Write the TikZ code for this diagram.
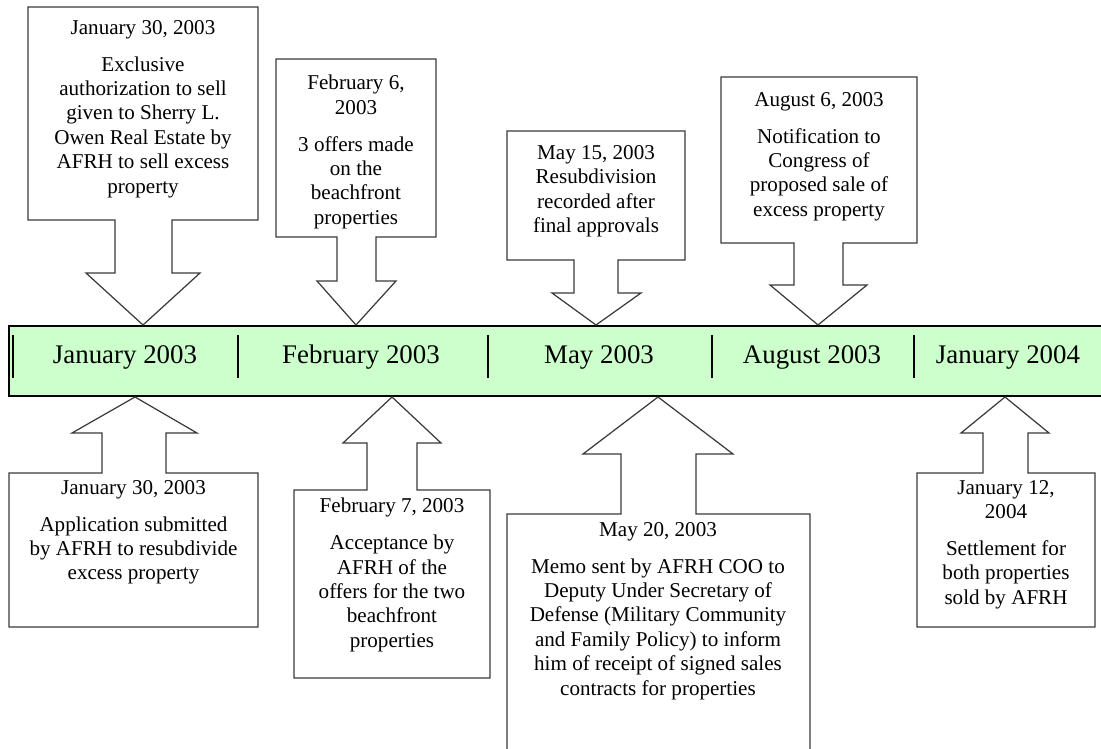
\documentclass[tikz,border=0pt]{standalone}
\usepackage{fontspec}
\setmainfont{Liberation Serif}
\usetikzlibrary{positioning}
\definecolor{barfill}{HTML}{CCFFCC}
\definecolor{edge}{HTML}{3A3A3A}

\tikzset{
  callout/.style={draw=edge, line width=0.7pt, fill=white, line join=miter},
  eventtext/.style={align=center, inner sep=0pt, anchor=north,
                    font=\fontsize{12}{13.9}\selectfont},
  monthlabel/.style={inner sep=0pt, anchor=base, font=\fontsize{15.3}{18}\selectfont},
  divider/.style={line width=0.9pt}
}

\begin{document}
\begin{tikzpicture}[x=0.02cm, y=-0.02cm]
  \useasboundingbox (0,0) rectangle (1101,749);

  % Timeline bar
  \fill[barfill] (9,326) rectangle (1101,396);
  \draw[line width=0.8pt] (1101,326) -- (9,326) -- (9,396) -- (1101,396);
  \foreach \x in {13, 238, 488, 712, 914}
    \draw[divider] (\x,335) -- (\x,378);

  \node[monthlabel] (jan03) at (125,364) {January 2003};
  \node[monthlabel] (feb03) at (361,364) {February 2003};
  \node[monthlabel] (may03) at (599,364) {May 2003};
  \node[monthlabel] (aug03) at (812,364) {August 2003};
  \node[monthlabel] (jan04) at (1008,364) {January 2004};

  % Callouts above the bar
  \draw[callout] (28,7) -- (258,7) -- (258,220) -- (172,220) -- (172,273)
    -- (200,273) -- (143,325) -- (86,273) -- (115,273) -- (115,220) -- (28,220) -- cycle;
  \node[eventtext] (ev1) at (143,20)
    {January 30, 2003\\[7pt] Exclusive\\ authorization to sell\\ given to Sherry L.\\
     Owen Real Estate by\\ AFRH to sell excess\\ property};

  \draw[callout] (276,59) -- (436,59) -- (436,237) -- (376,237) -- (376,281)
    -- (396,281) -- (356,325) -- (317,281) -- (337,281) -- (337,237) -- (276,237) -- cycle;
  \node[eventtext] (ev2) at (356,75)
    {February 6,\\ 2003\\[7pt] 3 offers made\\ on the\\ beachfront\\ properties};

  \draw[callout] (507,131) -- (685,131) -- (685,260) -- (618,260) -- (618,293)
    -- (641,293) -- (596,325) -- (552,293) -- (574,293) -- (574,260) -- (507,260) -- cycle;
  \node[eventtext] (ev3) at (596,145)
    {May 15, 2003\\ Resubdivision\\ recorded after\\ final approvals};

  \draw[callout] (721,77) -- (917,77) -- (917,243) -- (843,243) -- (843,285)
    -- (867,285) -- (818,325) -- (770,285) -- (794,285) -- (794,243) -- (721,243) -- cycle;
  \node[eventtext] (ev4) at (819,92)
    {August 6, 2003\\[7pt] Notification to\\ Congress of\\ proposed sale of\\ excess property};

  % Callouts below the bar
  \draw[callout] (9,627) -- (9,473) -- (102,473) -- (102,433) -- (72,433)
    -- (135,397) -- (197,433) -- (166,433) -- (166,473) -- (258,473) -- (258,627) -- cycle;
  \node[eventtext] (ev5) at (133.5,480)
    {January 30, 2003\\[7pt] Application submitted\\ by AFRH to resubdivide\\ excess property};

  \draw[callout] (294,678) -- (294,490) -- (367,490) -- (367,443) -- (343,443)
    -- (392,397) -- (441,443) -- (417,443) -- (417,490) -- (490,490) -- (490,678) -- cycle;
  \node[eventtext] (ev6) at (392,498)
    {February 7, 2003\\[7pt] Acceptance by\\ AFRH of the\\ offers for the two\\
     beachfront\\ properties};

  \draw[callout] (507,749) -- (507,514) -- (621,514) -- (621,454) -- (583,454)
    -- (658,397) -- (733,454) -- (696,454) -- (696,514) -- (810,514) -- (810,749);
  \node[eventtext] (ev7) at (658,522)
    {May 20, 2003\\[7pt] Memo sent by AFRH COO to\\ Deputy Under Secretary of\\
     Defense (Military Community\\ and Family Policy) to inform\\
     him of receipt of signed sales\\ contracts for properties};

  \draw[callout] (917,627) -- (917,473) -- (983,473) -- (983,433) -- (961,433)
    -- (1005,397) -- (1049,433) -- (1028,433) -- (1028,473) -- (1095,473) -- (1095,627) -- cycle;
  \node[eventtext] (ev8) at (1006,480)
    {January 12,\\ 2004\\[7pt] Settlement for\\ both properties\\ sold by AFRH};
\end{tikzpicture}
\end{document}
